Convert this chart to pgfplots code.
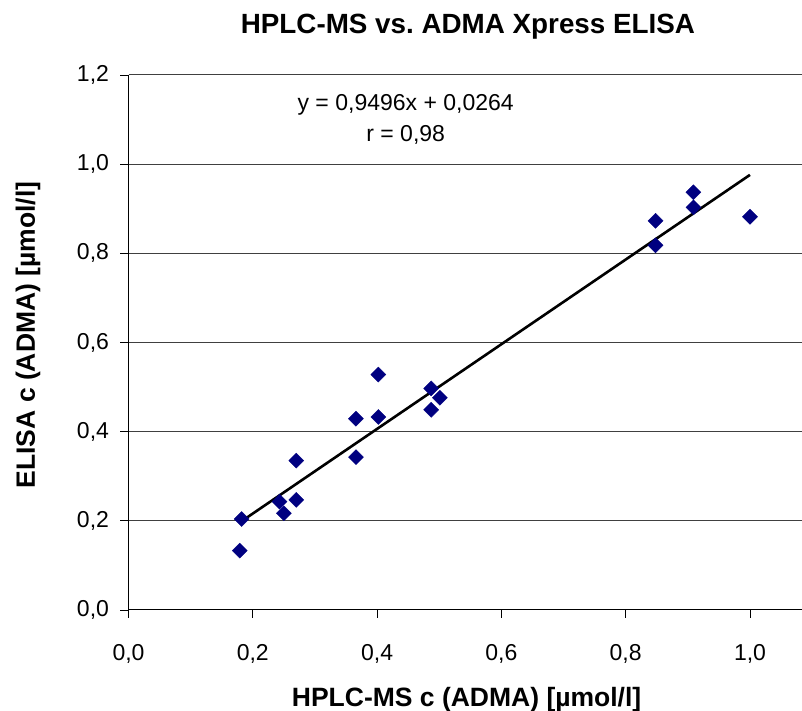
\documentclass[border=0pt]{standalone}
\usepackage{pgfplots}
\pgfplotsset{compat=1.18}
\usepackage{fontspec}
\setmainfont{Liberation Sans}
\definecolor{navymark}{RGB}{0,0,128}

\begin{document}
\begin{tikzpicture}
\useasboundingbox (0,0) rectangle (802pt,711pt);
\begin{axis}[
    at={(128.5pt,101pt)}, anchor=south west,
    scale only axis,
    width=673.5pt, height=535pt,
    xmin=0, xmax=1.0837, ymin=0, ymax=1.2,
    axis x line=bottom, axis y line=left,
    axis line style={-, black, line width=1pt},
    xtick={0,0.2,0.4,0.6,0.8,1.0},
    ytick={0,0.2,0.4,0.6,0.8,1.0,1.2},
    tick align=outside, major tick length=8pt,
    tick style={black, line width=0.8pt},
    ymajorgrids, grid style={black!75, line width=1pt},
    /pgf/number format/.cd, fixed, fixed zerofill, precision=1, use comma, assume math mode=true,
    /pgfplots/.cd,
    tick label style={font=\fontsize{23}{26}\selectfont},
    xticklabel style={yshift=-23pt},
    yticklabel style={xshift=-8pt},
    title={HPLC-MS vs.\ ADMA Xpress ELISA},
    title style={font=\bfseries\fontsize{27.8}{30}\selectfont, at={(axis description cs:0.504,1.080)}, anchor=center},
    xlabel={HPLC-MS c (ADMA) [µmol/l]},
    xlabel style={font=\bfseries\fontsize{26.5}{29}\selectfont, at={(axis description cs:0.502,-0.168)}, anchor=center},
    ylabel={ELISA c (ADMA) [µmol/l]},
    ylabel style={font=\bfseries\fontsize{26.5}{29}\selectfont, at={(axis description cs:-0.1492,0.514)}, anchor=center, rotate=0},
]
\addplot[only marks, mark=square*, mark size=5.3pt, color=navymark,
    every mark/.append style={rotate=45}] coordinates {
(0.179,0.133) (0.182,0.204) (0.243,0.243) (0.250,0.217) (0.270,0.247)
(0.270,0.335) (0.366,0.343) (0.366,0.429) (0.402,0.433) (0.402,0.528)
(0.487,0.449) (0.487,0.497) (0.501,0.476) (0.848,0.818) (0.848,0.873)
(0.909,0.903) (0.909,0.937) (1.000,0.882)
};
\addplot[black, line width=2.6pt] coordinates {(0.18,0.1973) (1.0,0.9760)};
\node[align=center, font=\fontsize{23}{31}\selectfont] at (axis cs:0.446,1.101)
    {y = 0,9496x + 0,0264\\r = 0,98};
\end{axis}
\end{tikzpicture}
\end{document}
